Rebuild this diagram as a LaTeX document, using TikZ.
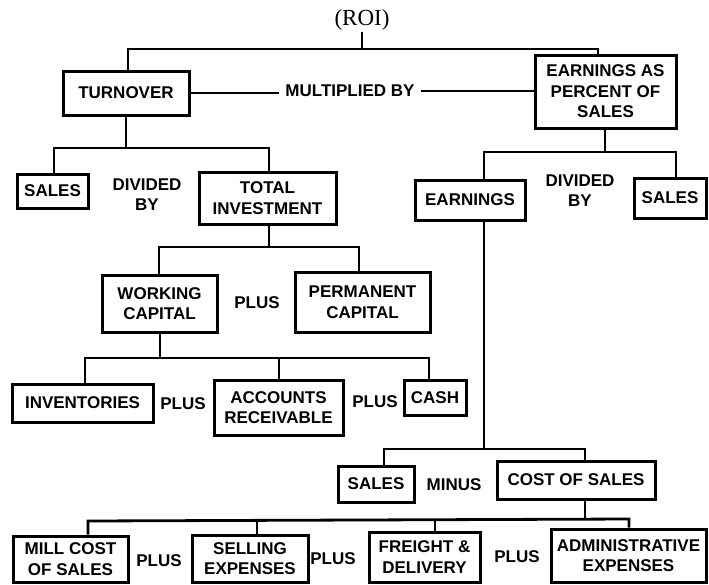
\documentclass[tikz,border=0pt]{standalone}
\usepackage{fontspec}
\setmainfont{Liberation Sans}
\newfontfamily\roifont{Liberation Serif}
\begin{document}
\begin{tikzpicture}[x=1pt,y=-1pt,
  bx/.style={draw, line width=3pt, inner sep=0pt, align=center,
    font=\bfseries\fontsize{17}{20.5}\selectfont},
  lbl/.style={inner sep=0pt, align=center, font=\bfseries\fontsize{17}{20}\selectfont},
  conn/.style={line width=2.8pt}]
\useasboundingbox (0,0) rectangle (709,584);
% title
\node[font=\roifont\fontsize{23}{26}\selectfont, inner sep=1pt] (roi) at (362,20) {(ROI)};
% level 1
\node[bx, minimum width=126pt, minimum height=44pt] (turn) at (126,93) {TURNOVER};
\node[bx, minimum width=141pt, minimum height=73pt] (eas) at (605.5,91.5) {EARNINGS AS\\PERCENT OF\\SALES};
\node[lbl, inner xsep=6pt] (mult) at (350,91) {MULTIPLIED BY};
% level 2
\node[bx, minimum width=71pt, minimum height=34pt] (salesL) at (52.5,191) {SALES};
\node[lbl] (div1) at (147,195) {DIVIDED\\BY};
\node[bx, minimum width=137pt, minimum height=52pt] (total) at (267.5,198) {TOTAL\\INVESTMENT};
\node[bx, minimum width=110pt, minimum height=40pt] (earn) at (470,200) {EARNINGS};
\node[lbl] (div2) at (580,191) {DIVIDED\\BY};
\node[bx, minimum width=72pt, minimum height=40pt] (salesR) at (670,198) {SALES};
% level 3
\node[bx, minimum width=115pt, minimum height=57pt] (work) at (159.5,303.5) {WORKING\\CAPITAL};
\node[lbl] (plus1) at (257,303) {PLUS};
\node[bx, minimum width=135pt, minimum height=60pt] (perm) at (362.5,302) {PERMANENT\\CAPITAL};
% level 4
\node[bx, minimum width=141pt, minimum height=38pt] (inv) at (82.5,403) {INVENTORIES};
\node[lbl] (plus2) at (183,404) {PLUS};
\node[bx, minimum width=129pt, minimum height=55pt] (acc) at (278.5,407.5) {ACCOUNTS\\RECEIVABLE};
\node[lbl] (plus3) at (375,402) {PLUS};
\node[bx, minimum width=62pt, minimum height=35pt] (cash) at (435,397.5) {CASH};
% level 5
\node[bx, minimum width=76pt, minimum height=36pt] (salesM) at (376,484) {SALES};
\node[lbl] (minus) at (454,485) {MINUS};
\node[bx, minimum width=158pt, minimum height=38pt] (cost) at (576,480) {COST OF SALES};
% level 6
\node[bx, minimum width=115pt, minimum height=46pt] (mill) at (70.5,559) {MILL COST\\OF SALES};
\node[lbl] (plus4) at (159,561) {PLUS};
\node[bx, minimum width=116pt, minimum height=47pt] (sell) at (250,558.5) {SELLING\\EXPENSES};
\node[lbl] (plus5) at (333,559) {PLUS};
\node[bx, minimum width=111pt, minimum height=50pt] (frt) at (424.5,557) {FREIGHT \&\\DELIVERY};
\node[lbl] (plus6) at (517,557) {PLUS};
\node[bx, minimum width=155pt, minimum height=53pt] (adm) at (628.5,555.5) {ADMINISTRATIVE\\EXPENSES};
% connector coordinates
\coordinate (t0) at (362,49);
\coordinate (t1) at (128,49);
\coordinate (t2) at (598,49);
\coordinate (a0) at (126,148);
\coordinate (a1) at (54,148);
\coordinate (a2) at (269,148);
\coordinate (e0) at (605,152);
\coordinate (e1) at (484,152);
\coordinate (e2) at (676,152);
\coordinate (w0) at (269,247);
\coordinate (w1) at (159,247);
\coordinate (w2) at (359,247);
\coordinate (i0) at (160,358);
\coordinate (i1) at (85,358);
\coordinate (i2) at (279,358);
\coordinate (i3) at (429,358);
\coordinate (s0) at (484,449);
\coordinate (s1) at (384,449);
\coordinate (s2) at (585,449);
\coordinate (m0) at (585,519);
\coordinate (m1) at (88,521);
\coordinate (m2) at (257,521);
\coordinate (m3) at (435,520);
\coordinate (m4) at (629,519);
% connectors
\draw[conn] (roi.south) -- (t0);
\draw[conn] (turn.north -| t1) -- (t1) -- (t2) -- (eas.north -| t2);
\draw[conn] (turn.east) -- (turn.east -| mult.west);
\draw[conn] (mult.east) -- (mult.east -| eas.west);
\draw[conn] (turn.south) -- (a0);
\draw[conn] (salesL.north -| a1) -- (a1) -- (a2) -- (total.north -| a2);
\draw[conn] (eas.south -| e0) -- (e0);
\draw[conn] (earn.north -| e1) -- (e1) -- (e2) -- (salesR.north -| e2);
\draw[conn] (total.south -| w0) -- (w0);
\draw[conn] (work.north -| w1) -- (w1) -- (w2) -- (perm.north -| w2);
\draw[conn] (work.south -| i0) -- (i0);
\draw[conn] (inv.north -| i1) -- (i1) -- (i3) -- (cash.north -| i3);
\draw[conn] (acc.north -| i2) -- (i2);
\draw[conn] (earn.south -| s0) -- (s0);
\draw[conn] (salesM.north -| s1) -- (s1) -- (s2) -- (cost.north -| s2);
\draw[conn] (cost.south -| m0) -- (m0);
\draw[conn] (mill.north -| m1) -- (m1) -- (m4) -- (adm.north -| m4);
\draw[conn] (sell.north -| m2) -- (m2);
\draw[conn] (frt.north -| m3) -- (m3);
\end{tikzpicture}
\end{document}
